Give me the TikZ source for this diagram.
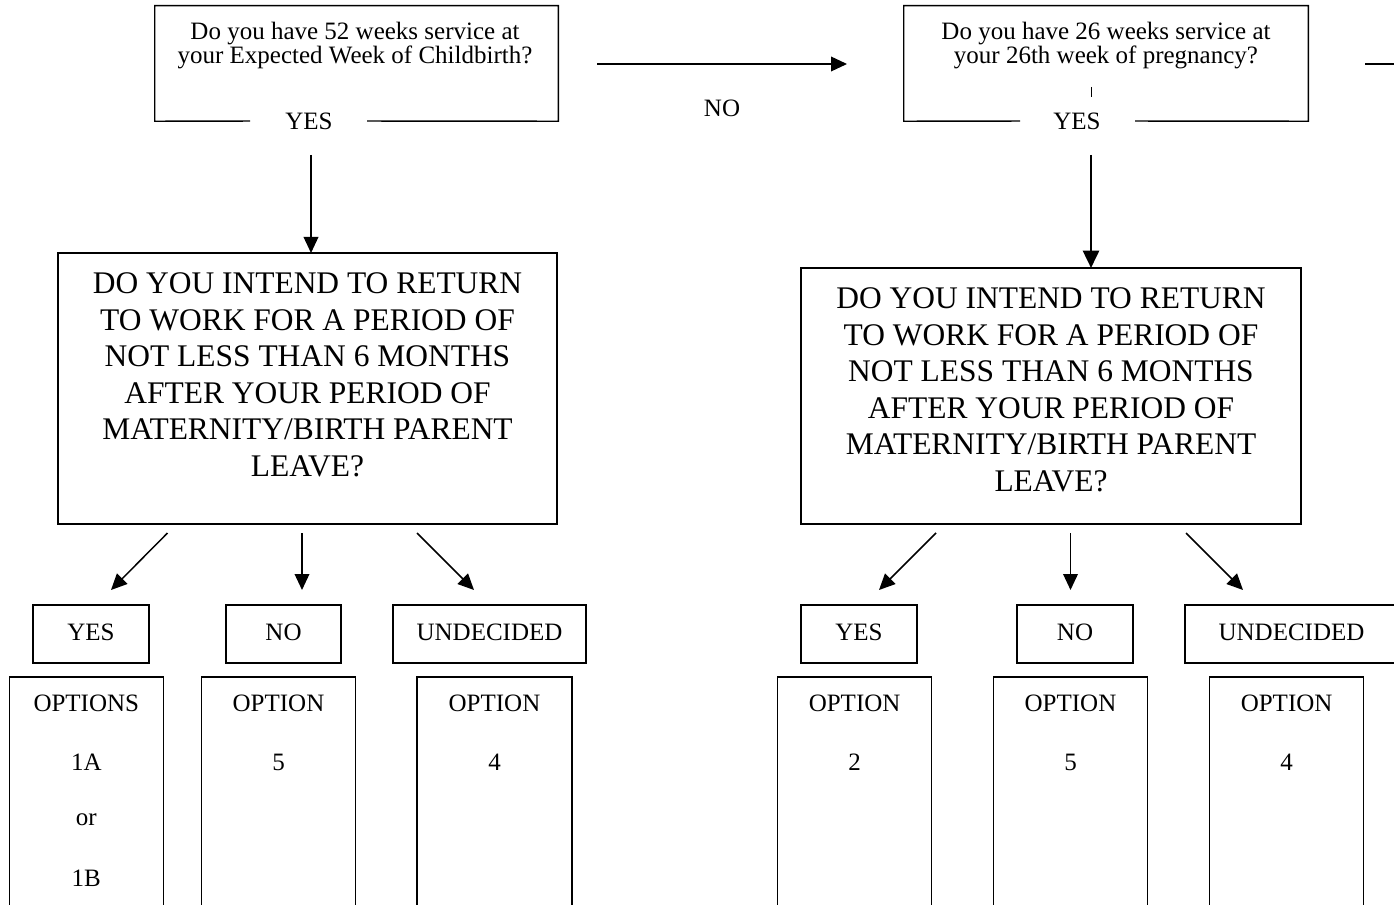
\documentclass[tikz,border=0pt]{standalone}
\usepackage{fontspec}
\setmainfont{Liberation Serif}
\usetikzlibrary{arrows.meta}
\begin{document}
\begin{tikzpicture}[x=0.75pt,y=-0.75pt,
  ln/.style={line width=1.1pt},
  frame/.style={draw, line width=1.1pt, inner sep=0pt},
  wh/.style 2 args={minimum width=#1*0.75pt, minimum height=#2*0.75pt},
  arr/.style={line width=1.1pt, -{Triangle[length=12pt,width=11pt]}},
  thickarr/.style={line width=2pt, -{Triangle[length=13pt,width=12pt]}},
  sm/.style={font=\fontsize{18.75pt}{18pt}\selectfont, inner sep=0pt, align=center},
  lg/.style={font=\fontsize{23.6pt}{27.4pt}\selectfont, inner sep=0pt, align=center}]
\useasboundingbox (0,0) rectangle (1394,905);
\clip (0,0) rectangle (1394,905);
\fill[white] (0,0) rectangle (1394,905);

% ---------- top question boxes ----------
\node[inner sep=0pt, wh={403}{115}] (q1) at (356.5,63.5) {};
\node[sm] (q1t) at (355,46) {Do you have 52 weeks service at\\your Expected Week of Childbirth?};
\node[sm] (y1) at (309,121) {YES};
\coordinate (g1l) at (250,121);
\coordinate (g1r) at (367,121);
\draw[ln] (g1l) -- (q1.south west) -- (q1.north west) -- (q1.north east) -- (q1.south east) -- (g1r);

\node[inner sep=0pt, wh={404}{115}] (q2) at (1106,63.5) {};
\node[sm] (q2t) at (1106,46) {Do you have 26 weeks service at\\your 26th week of pregnancy?};
\node[sm] (y2) at (1077,121) {YES};
\coordinate (g2l) at (1020,121);
\coordinate (g2r) at (1135,121);
\draw[ln] (g2l) -- (q2.south west) -- (q2.north west) -- (q2.north east) -- (q2.south east) -- (g2r);
\coordinate (tk1) at (1091.5,87);
\coordinate (tk2) at (1091.5,97);
\draw[ln] (tk1) -- (tk2);

% NO arrow
\coordinate (noS) at (597,64);
\coordinate (noE) at (847,64);
\draw[arr] (noS) -- (noE);
\node[sm] (nol) at (722,108) {NO};
\coordinate (stubS) at (1365,64);
\coordinate (stubE) at (1400,64);
\draw[ln] (stubS) -- (stubE);

% ---------- big boxes ----------
\node[frame, wh={499}{271}] (b1) at (307.5,388.5) {};
\node[lg] (b1t) at (307.5,375) {DO YOU INTEND TO RETURN\\TO WORK FOR A PERIOD OF\\NOT LESS THAN 6 MONTHS\\AFTER YOUR PERIOD OF\\MATERNITY/BIRTH PARENT\\LEAVE?};
\node[frame, wh={500}{256}] (b2) at (1051,396) {};
\node[lg] (b2t) at (1051,390) {DO YOU INTEND TO RETURN\\TO WORK FOR A PERIOD OF\\NOT LESS THAN 6 MONTHS\\AFTER YOUR PERIOD OF\\MATERNITY/BIRTH PARENT\\LEAVE?};

\coordinate (a1s) at (311,155);
\coordinate (a1e) at (311,253);
\draw[arr] (a1s) -- (a1e);
\coordinate (a2s) at (1091,155);
\coordinate (a2m) at (1091,173);
\coordinate (a2e) at (1091,268);
\draw[ln] (a2s) -- (a2m);
\draw[thickarr] (a2m) -- (a2e);

% ---------- answer boxes ----------
\node[frame, wh={116}{58}] (yA) at (91,634) {};
\node[sm] at (91,632) {YES};
\node[frame, wh={115}{58}] (nA) at (283.5,634) {};
\node[sm] at (283.5,632) {NO};
\node[frame, wh={193}{58}] (uA) at (489.5,634) {};
\node[sm] at (489.5,632) {UNDECIDED};

\node[frame, wh={116}{58}] (yB) at (859,634) {};
\node[sm] at (859,632) {YES};
\node[frame, wh={116}{58}] (nB) at (1075,634) {};
\node[sm] at (1075,632) {NO};
\node[frame, wh={213}{58}] (uB) at (1291.5,634) {};
\node[sm] at (1291.5,632) {UNDECIDED};

% arrows from big boxes
\coordinate (s1) at (167.5,533); \coordinate (e1) at (111,590);
\coordinate (s2) at (302,533);   \coordinate (e2) at (302,590);
\coordinate (s3) at (417,533);   \coordinate (e3) at (474,590);
\draw[arr] (s1) -- (e1);
\draw[arr] (s2) -- (e2);
\draw[arr] (s3) -- (e3);
\coordinate (s4) at (936,533);    \coordinate (e4) at (879,590);
\coordinate (s5) at (1070.5,533); \coordinate (e5) at (1070.5,590);
\coordinate (s6) at (1186,533);   \coordinate (e6) at (1243,590);
\draw[arr] (s4) -- (e4);
\draw[arr] (s5) -- (e5);
\draw[arr] (s6) -- (e6);

% ---------- option boxes ----------
\node[frame, wh={154}{283}] (oA1) at (86.3,818.5) {};
\node[sm] at (86.3,703) {OPTIONS};
\node[sm] at (86.3,762) {1A};
\node[sm] at (86.3,820) {or};
\node[sm] at (86.3,878) {1B};
\node[frame, wh={154}{283}] (oA2) at (278.5,818.5) {};
\node[sm] at (278.5,703) {OPTION};
\node[sm] at (278.5,762) {5};
\node[frame, wh={155}{283}] (oA3) at (494.5,818.5) {};
\node[sm] at (494.5,703) {OPTION};
\node[sm] at (494.5,762) {4};

\node[frame, wh={154}{283}] (oB1) at (854.6,818.5) {};
\node[sm] at (854.6,703) {OPTION};
\node[sm] at (854.6,762) {2};
\node[frame, wh={154}{283}] (oB2) at (1070.5,818.5) {};
\node[sm] at (1070.5,703) {OPTION};
\node[sm] at (1070.5,762) {5};
\node[frame, wh={154}{283}] (oB3) at (1286.6,818.5) {};
\node[sm] at (1286.6,703) {OPTION};
\node[sm] at (1286.6,762) {4};
\end{tikzpicture}
\end{document}
